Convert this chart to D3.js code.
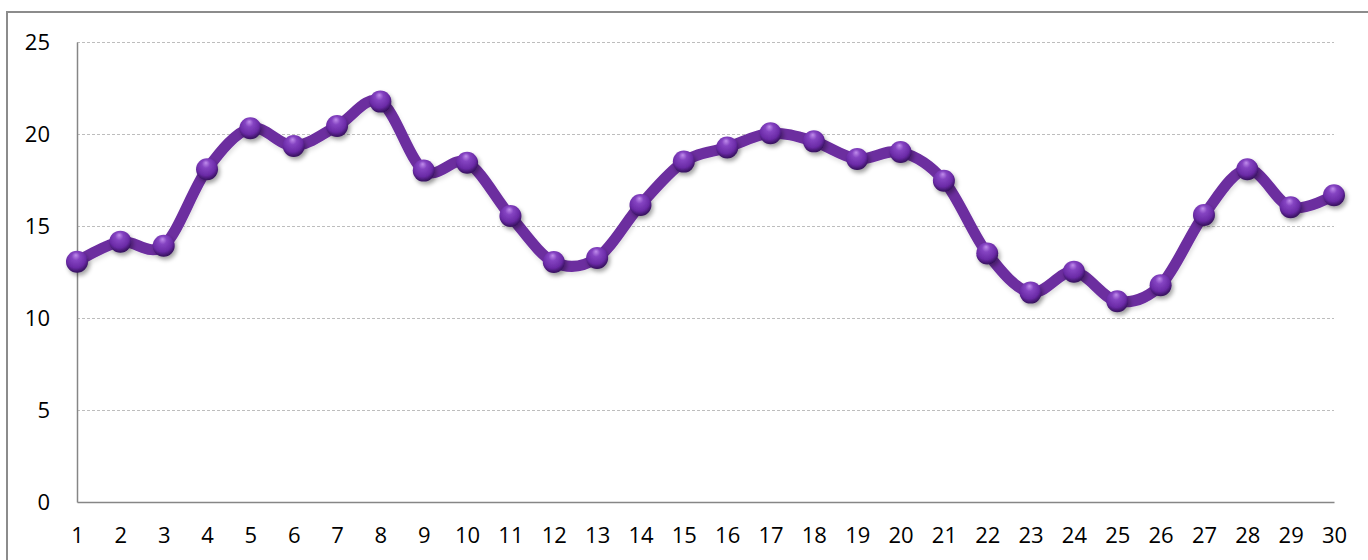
<!DOCTYPE html>
<html>
<head>
<meta charset="utf-8">
<script src="https://cdn.jsdelivr.net/npm/d3@7"></script>
<style>
    body { margin: 0; background: #fff; }
</style>
</head>
<body>
<div id="chart"></div>
<script>
// data
var categories = d3.range(1, 31).map(String);
var values = [13.06, 14.15, 13.93, 18.08, 20.31, 19.35, 20.43, 21.76, 18.01, 18.44,
    15.54, 13.04, 13.26, 16.14, 18.5, 19.27, 20.04, 19.6, 18.64, 19.02,
    17.46, 13.51, 11.38, 12.52, 10.91, 11.78, 15.6, 18.08, 16.02, 16.67];
var yTicks = [0, 5, 10, 15, 20, 25];

var width = 1368,
    height = 560,
    margin = { top: 42, right: 34, bottom: 58, left: 77 };

var data = categories.map(function (c, i) { return { cat: c, value: values[i] }; });

var svg = d3.select("#chart").append("svg")
    .attr("width", width)
    .attr("height", height);

var defs = svg.append("defs");

var grad = defs.append("radialGradient")
    .attr("id", "ball")
    .attr("cx", "45%").attr("cy", "38%").attr("r", "62%")
    .attr("fx", "45%").attr("fy", "20%");
grad.append("stop").attr("offset", "0%").attr("stop-color", "#c08cec");
grad.append("stop").attr("offset", "30%").attr("stop-color", "#8544c2");
grad.append("stop").attr("offset", "72%").attr("stop-color", "#6a2aa6");
grad.append("stop").attr("offset", "100%").attr("stop-color", "#34105a");

var shadow = defs.append("filter").attr("id", "shadow")
    .attr("x", "-50%").attr("y", "-50%").attr("width", "200%").attr("height", "200%");
shadow.append("feDropShadow")
    .attr("dx", 2).attr("dy", 3).attr("stdDeviation", 2.2)
    .attr("flood-color", "#000").attr("flood-opacity", 0.35);

var lineShadow = defs.append("filter").attr("id", "lineShadow")
    .attr("x", "-10%").attr("y", "-20%").attr("width", "120%").attr("height", "140%");
lineShadow.append("feDropShadow")
    .attr("dx", 1).attr("dy", 3).attr("stdDeviation", 2)
    .attr("flood-color", "#000").attr("flood-opacity", 0.12);

// outer chart border
svg.append("rect")
    .attr("x", 7).attr("y", 12)
    .attr("width", width).attr("height", height)
    .attr("fill", "none")
    .attr("stroke", "#8c8c8c")
    .attr("stroke-width", 2);

var x = d3.scalePoint().domain(categories).range([margin.left, width - margin.right]);
var y = d3.scaleLinear().domain([0, 25]).range([height - margin.bottom, margin.top]);

// gridlines
svg.append("g")
    .attr("class", "grid")
    .selectAll("line")
    .data(yTicks.filter(function (d) { return d > 0; }))
    .enter().append("line")
    .attr("x1", margin.left).attr("x2", width - margin.right)
    .attr("y1", function (d) { return y(d) + 0.5; })
    .attr("y2", function (d) { return y(d) + 0.5; })
    .attr("stroke", "#bdbdbd")
    .attr("stroke-dasharray", "3,2")
    .attr("stroke-width", 1);

// y axis
var yAxis = svg.append("g")
    .attr("transform", "translate(" + margin.left + ",0)")
    .call(d3.axisLeft(y).tickValues(yTicks).tickSize(0).tickPadding(27));
yAxis.select(".domain").attr("stroke", "#868686").attr("stroke-width", 1.5);

// x axis
var xAxis = svg.append("g")
    .attr("transform", "translate(0," + y(0) + ")")
    .call(d3.axisBottom(x).tickSize(0).tickPadding(25));
xAxis.select(".domain").attr("stroke", "#868686").attr("stroke-width", 1.5);

svg.selectAll(".tick text")
    .attr("fill", "#000")
    .style("font-family", "'Open Sans', 'Noto Sans', sans-serif")
    .style("font-size", "22px");

var line = d3.line()
    .curve(d3.curveCardinal)
    .x(function (d) { return x(d.cat); })
    .y(function (d) { return y(d.value); });

svg.append("path")
    .datum(data)
    .attr("d", line)
    .attr("fill", "none")
    .attr("stroke", "#6c2d9f")
    .attr("stroke-width", 11)
    .attr("stroke-linejoin", "round")
    .attr("filter", "url(#lineShadow)");

svg.append("g")
    .selectAll("circle")
    .data(data)
    .enter().append("circle")
    .attr("cx", function (d) { return x(d.cat); })
    .attr("cy", function (d) { return y(d.value); })
    .attr("r", 11)
    .attr("fill", "url(#ball)")
    .attr("filter", "url(#shadow)");
</script>
</body>
</html>
